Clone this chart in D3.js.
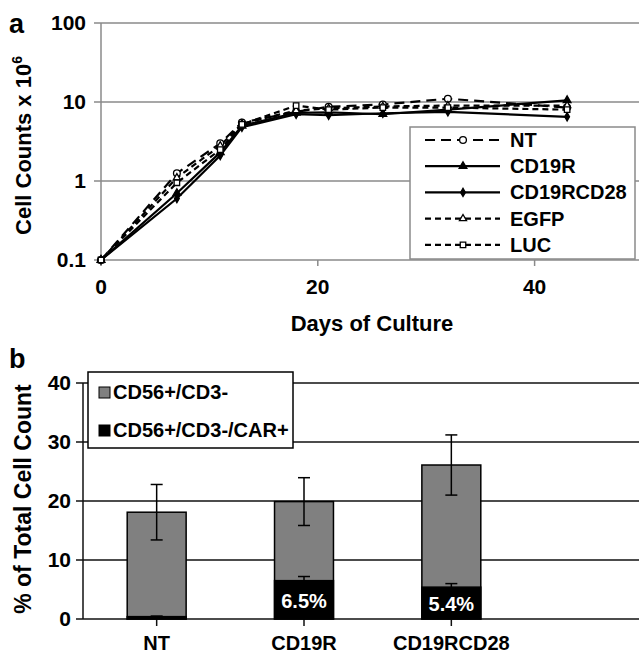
<!DOCTYPE html>
<html>
<head>
<meta charset="utf-8">
<script src="https://cdn.jsdelivr.net/npm/d3@7"></script>
<style>
  body { margin: 0; background: #fff; }
  svg { display: block; }
  svg text { font-family: "Liberation Sans", Arial, Helvetica, sans-serif; font-weight: 700; }
</style>
</head>
<body>
<div id="chart"></div>
<script>
// Panel a: cell counts (x 10^6) over days of culture
const days = [0, 7, 11, 13, 18, 21, 26, 32, 43];
const ntCounts        = [0.1, 1.25, 3.0, 5.5, 7.5, 8.7, 9.3, 11.0, 8.5];
const cd19rCounts     = [0.1, 0.7, 2.3, 5.0, 7.3, 7.4, 7.0, 8.0, 10.5];
const cd19rcd28Counts = [0.1, 0.6, 2.1, 4.8, 7.0, 6.8, 7.2, 7.5, 6.5];
const egfpCounts      = [0.1, 1.1, 2.8, 5.3, 7.8, 8.3, 8.8, 9.0, 9.0];
const lucCounts       = [0.1, 0.95, 2.5, 5.2, 9.0, 8.0, 8.5, 8.5, 8.0];
const seriesNames = ["NT", "CD19R", "CD19RCD28", "EGFP", "LUC"];
const yTicksA = [0.1, 1, 10, 100];
const xTicksA = [0, 20, 40];

// Panel b: % of total cell count
const groups = ["NT", "CD19R", "CD19RCD28"];
const totalPct = [18.1, 19.9, 26.1];
const totalErr = [4.7, 4.05, 5.1];
const carPct = [0.4, 6.5, 5.4];
const carErr = [0.1, 0.7, 0.6];
const carLabels = ["", "6.5%", "5.4%"];
const legendB = ["CD56+/CD3-", "CD56+/CD3-/CAR+"];
const yTicksB = [0, 10, 20, 30, 40];

const width = 639, height = 656;
const svg = d3.select("#chart").append("svg")
    .attr("width", width)
    .attr("height", height)
    .attr("font-family", "Liberation Sans, Arial, sans-serif")
    .attr("font-weight", "bold");

// ---------- panel a ----------
const xA = d3.scaleLinear().domain([0, 50]).range([101, 643]);
const yA = d3.scaleLog().domain([0.1, 100]).range([260, 23]);
const gridGray = "#8a8a8a";

const gA = svg.append("g");

// gridlines
gA.selectAll("line.grid")
    .data(yTicksA)
    .enter().append("line")
    .attr("x1", 94).attr("x2", width)
    .attr("y1", d => yA(d)).attr("y2", d => yA(d))
    .attr("stroke", gridGray).attr("stroke-width", 1.5);

// left axis line
gA.append("line")
    .attr("x1", xA(0)).attr("x2", xA(0))
    .attr("y1", yA(100)).attr("y2", yA(0.1))
    .attr("stroke", gridGray).attr("stroke-width", 1.5);

// x ticks
gA.selectAll("line.xtick")
    .data(xTicksA)
    .enter().append("line")
    .attr("x1", d => xA(d)).attr("x2", d => xA(d))
    .attr("y1", yA(0.1)).attr("y2", yA(0.1) + 6)
    .attr("stroke", gridGray).attr("stroke-width", 1.5);

gA.selectAll("text.ylab")
    .data(yTicksA)
    .enter().append("text")
    .attr("x", 86).attr("y", d => yA(d) + 7)
    .attr("text-anchor", "end")
    .attr("font-size", 21)
    .text(d => d3.format("")(d));

gA.selectAll("text.xlab")
    .data(xTicksA)
    .enter().append("text")
    .attr("x", d => xA(d)).attr("y", 294)
    .attr("text-anchor", "middle")
    .attr("font-size", 21)
    .text(d => d);

gA.append("text")
    .attr("x", (xA(0) + xA(50)) / 2).attr("y", 331)
    .attr("text-anchor", "middle")
    .attr("font-size", 22)
    .text("Days of Culture");

const titleA = gA.append("text")
    .attr("transform", `translate(31,${(yA(0.1) + yA(100)) / 2 + 4}) rotate(-90)`)
    .attr("text-anchor", "middle")
    .attr("font-size", 22);
titleA.append("tspan").text("Cell Counts x 10");
titleA.append("tspan").attr("font-size", 14).attr("dy", -9).text("6");

svg.append("text").attr("x", 9).attr("y", 33).attr("font-size", 27).text("a");

// series
const seriesData = [ntCounts, cd19rCounts, cd19rcd28Counts, egfpCounts, lucCounts];
const styles = [
    { dash: "10,6", symbol: d3.symbolCircle, size: 36, fill: "#fff" },
    { dash: null, symbol: d3.symbolTriangle, size: 26, fill: "#000" },
    { dash: null, symbol: d3.symbolDiamond, size: 20, fill: "#000" },
    { dash: "6,4", symbol: d3.symbolTriangle, size: 22, fill: "#fff" },
    { dash: "6,4", symbol: d3.symbolSquare, size: 30, fill: "#fff" }
];

const line = d3.line()
    .x((d, i) => xA(days[i]))
    .y(d => yA(d));

seriesData.forEach((vals, s) => {
    gA.append("path")
        .datum(vals)
        .attr("d", line)
        .attr("fill", "none")
        .attr("stroke", "#000")
        .attr("stroke-width", 2.2)
        .attr("stroke-dasharray", styles[s].dash);
});
seriesData.forEach((vals, s) => {
    gA.selectAll(null)
        .data(vals)
        .enter().append("path")
        .attr("transform", (d, i) => `translate(${xA(days[i])},${yA(d)})`)
        .attr("d", d3.symbol().type(styles[s].symbol).size(styles[s].size))
        .attr("fill", styles[s].fill)
        .attr("stroke", "#000")
        .attr("stroke-width", 1.3);
});

// legend a
const legA = gA.append("g");
legA.append("rect")
    .attr("x", 410).attr("y", 127).attr("width", 225).attr("height", 132)
    .attr("fill", "#fff").attr("stroke", gridGray).attr("stroke-width", 1.5);
seriesNames.forEach((name, i) => {
    const y = 140 + i * 26.2;
    legA.append("line")
        .attr("x1", 425).attr("x2", 500).attr("y1", y).attr("y2", y)
        .attr("stroke", "#000").attr("stroke-width", 2.2)
        .attr("stroke-dasharray", styles[i].dash);
    legA.append("path")
        .attr("transform", `translate(463,${y})`)
        .attr("d", d3.symbol().type(styles[i].symbol).size(styles[i].size))
        .attr("fill", styles[i].fill)
        .attr("stroke", "#000").attr("stroke-width", 1.3);
    legA.append("text")
        .attr("x", 510).attr("y", y + 7)
        .attr("font-size", 20)
        .text(name);
});

// ---------- panel b ----------
const xB = d3.scaleBand().domain(groups).range([83, 525]).paddingInner(0.6).paddingOuter(0.3);
const yB = d3.scaleLinear().domain([0, 40]).range([619, 383]);
const gB = svg.append("g");

gB.selectAll("line.grid")
    .data(yTicksB)
    .enter().append("line")
    .attr("x1", 76).attr("x2", width)
    .attr("y1", d => yB(d)).attr("y2", d => yB(d))
    .attr("stroke", "#111").attr("stroke-width", 1.5);

gB.append("line")
    .attr("x1", 83).attr("x2", 83)
    .attr("y1", yB(40)).attr("y2", yB(0))
    .attr("stroke", "#111").attr("stroke-width", 1.5);

gB.selectAll("text.ylab")
    .data(yTicksB)
    .enter().append("text")
    .attr("x", 71).attr("y", d => yB(d) + 7)
    .attr("text-anchor", "end")
    .attr("font-size", 21)
    .text(d => d);

gB.selectAll("line.xtick")
    .data(groups)
    .enter().append("line")
    .attr("x1", d => xB(d) + xB.bandwidth() / 2).attr("x2", d => xB(d) + xB.bandwidth() / 2)
    .attr("y1", yB(0)).attr("y2", yB(0) + 7)
    .attr("stroke", "#111").attr("stroke-width", 1.5);

gB.selectAll("text.xlab")
    .data(groups)
    .enter().append("text")
    .attr("x", d => xB(d) + xB.bandwidth() / 2).attr("y", 650)
    .attr("text-anchor", "middle")
    .attr("font-size", 20)
    .text(d => d);

gB.append("text")
    .attr("transform", `translate(31,${(yB(0) + yB(40)) / 2 - 2}) rotate(-90)`)
    .attr("text-anchor", "middle")
    .attr("font-size", 23)
    .text("% of Total Cell Count");

svg.append("text").attr("x", 9).attr("y", 368).attr("font-size", 27).text("b");

// gray total bars
gB.selectAll("rect.total")
    .data(groups)
    .enter().append("rect")
    .attr("x", d => xB(d))
    .attr("y", (d, i) => yB(totalPct[i]))
    .attr("width", xB.bandwidth())
    .attr("height", (d, i) => yB(0) - yB(totalPct[i]))
    .attr("fill", "#808080")
    .attr("stroke", "#000").attr("stroke-width", 1.5);

// black CAR+ segments
gB.selectAll("rect.car")
    .data(groups)
    .enter().append("rect")
    .attr("x", d => xB(d))
    .attr("y", (d, i) => yB(carPct[i]))
    .attr("width", xB.bandwidth())
    .attr("height", (d, i) => yB(0) - yB(carPct[i]))
    .attr("fill", "#000")
    .attr("stroke", "#000").attr("stroke-width", 1.5);

// error bars
function errorBars(vals, errs) {
    const cap = 6;
    groups.forEach((g, i) => {
        const cx = xB(g) + xB.bandwidth() / 2;
        const lo = yB(vals[i] - errs[i]), hi = yB(vals[i] + errs[i]);
        gB.append("line").attr("x1", cx).attr("x2", cx).attr("y1", lo).attr("y2", hi)
            .attr("stroke", "#000").attr("stroke-width", 1.5);
        [lo, hi].forEach(y => {
            gB.append("line").attr("x1", cx - cap).attr("x2", cx + cap).attr("y1", y).attr("y2", y)
                .attr("stroke", "#000").attr("stroke-width", 1.5);
        });
    });
}
errorBars(totalPct, totalErr);
errorBars(carPct, carErr);

gB.selectAll("text.carlab")
    .data(groups)
    .enter().append("text")
    .attr("x", d => xB(d) + xB.bandwidth() / 2)
    .attr("y", (d, i) => (yB(0) + yB(carPct[i])) / 2 + 8)
    .attr("text-anchor", "middle")
    .attr("font-size", 20)
    .attr("fill", "#fff")
    .text((d, i) => carLabels[i]);

// legend b
const legB = gB.append("g");
legB.append("rect")
    .attr("x", 88).attr("y", 372).attr("width", 205).attr("height", 76)
    .attr("fill", "#fff").attr("stroke", "#000").attr("stroke-width", 1.5);
const legColors = ["#808080", "#000"];
legendB.forEach((name, i) => {
    const y = 392 + i * 38;
    legB.append("rect")
        .attr("x", 99).attr("y", y - 5).attr("width", 11).attr("height", 11)
        .attr("fill", legColors[i]).attr("stroke", "#000").attr("stroke-width", 1);
    legB.append("text")
        .attr("x", 113).attr("y", y + 7)
        .attr("font-size", 20)
        .text(name);
});
</script>
</body>
</html>
